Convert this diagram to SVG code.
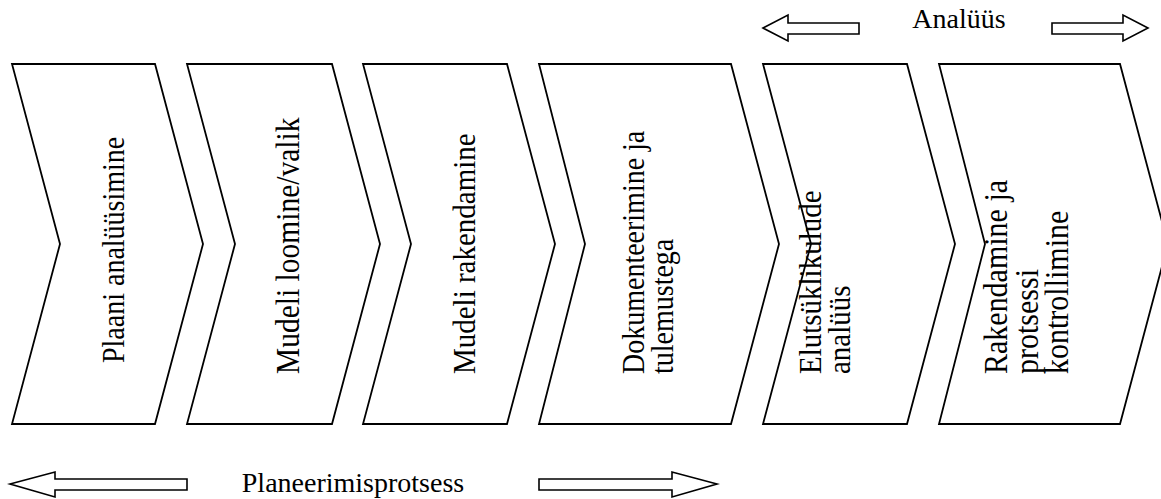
<svg xmlns="http://www.w3.org/2000/svg" width="1161" height="499" viewBox="0 0 1161 499">
  <style>
    .chev { fill: #ffffff; stroke: #000000; stroke-width: 1.8; stroke-linejoin: miter; }
    .arrow { fill: #ffffff; stroke: #000000; stroke-width: 1.6; stroke-linejoin: miter; }
    .lbl { font-family: "Liberation Serif", "Times New Roman", serif; font-size: 28px; fill: #000000; }
  </style>
  <rect width="1161" height="499" fill="#ffffff"/>

  <!-- process steps: chevrons with rotated labels (glyphs slightly tall) -->
  <g id="step1">
    <polygon class="chev" points="12,64 155,64 203,244 155,424 12,424 60,244"/>
    <text class="lbl" transform="translate(124,363) rotate(-90) scale(1,1.12)">Plaani analüüsimine</text>
  </g>
  <g id="step2">
    <polygon class="chev" points="187,64 332,64 380,244 332,424 187,424 235,244"/>
    <text class="lbl" style="font-size:29.5px" transform="translate(299,374) rotate(-90) scale(1,1.12)">Mudeli loomine/valik</text>
  </g>
  <g id="step3">
    <polygon class="chev" points="363,64 507,64 555,244 507,424 363,424 411,244"/>
    <text class="lbl" style="font-size:29px" transform="translate(475,374) rotate(-90) scale(1,1.12)">Mudeli rakendamine</text>
  </g>
  <g id="step4">
    <polygon class="chev" points="539,64 731,64 779,244 731,424 539,424 585,244"/>
    <text class="lbl" transform="translate(644,374) rotate(-90) scale(1,1.12)">Dokumenteerimine ja</text>
    <text class="lbl" transform="translate(673,374) rotate(-90) scale(1,1.12)">tulemustega</text>
  </g>
  <g id="step5">
    <polygon class="chev" points="763,64 907,64 955,244 907,424 763,424 811,244"/>
    <text class="lbl" style="font-size:29px" transform="translate(821,374) rotate(-90) scale(1,1.12)">Elutsüklikulude</text>
    <text class="lbl" style="font-size:29px" transform="translate(850,374) rotate(-90) scale(1,1.12)">analüüs</text>
  </g>
  <g id="step6">
    <polygon class="chev" points="939,64 1120,64 1168,244 1120,424 939,424 985,244"/>
    <text class="lbl" style="font-size:30px" transform="translate(1007,374) rotate(-90) scale(1,1.12)">Rakendamine ja</text>
    <text class="lbl" style="font-size:30px" transform="translate(1038,374) rotate(-90) scale(1,1.12)">protsessi</text>
    <text class="lbl" style="font-size:30px" transform="translate(1068,374) rotate(-90) scale(1,1.12)">kontrollimine</text>
  </g>

  <!-- phase spans: double-ended block arrows with captions -->
  <g id="connectors">
    <polygon class="arrow" points="763,28 788,15 788,23 859,23 859,34 788,34 788,41"/>
    <polygon class="arrow" points="1148,28 1123,15 1123,23 1052,23 1052,34 1123,34 1123,41"/>
    <polygon class="arrow" points="10,484 55,472 55,479 187,479 187,490 55,490 55,497"/>
    <polygon class="arrow" points="717,484 672,472 672,479 539,479 539,490 672,490 672,497"/>
  </g>
  <g id="phase-analysis">
    <text class="lbl" x="959" y="28" text-anchor="middle">Analüüs</text>
  </g>
  <g id="phase-planning">
    <text class="lbl" x="353" y="492" text-anchor="middle">Planeerimisprotsess</text>
  </g>
</svg>
